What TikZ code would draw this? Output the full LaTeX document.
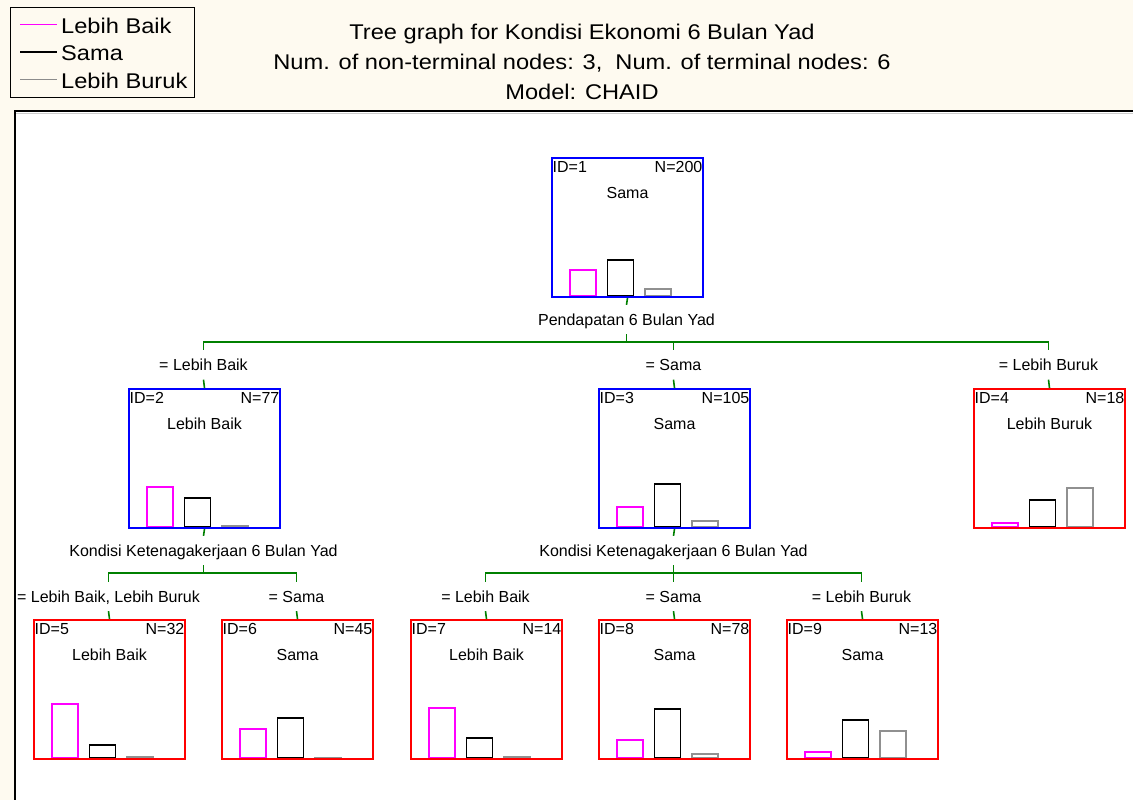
\documentclass[tikz,border=0pt]{standalone}
\usepackage{fontspec}
\setmainfont{Liberation Sans}
\newfontfamily\headfont[FakeStretch=1.11]{Liberation Sans}
\usetikzlibrary{calc}

\definecolor{cream}{RGB}{254,250,240}
\definecolor{edgegreen}{RGB}{0,128,0}
\definecolor{barpink}{RGB}{255,0,255}
\definecolor{bargray}{RGB}{144,144,144}
\definecolor{keygray}{RGB}{140,140,140}

\tikzset{
  boxbase/.style={line width=2pt, minimum width=151pt, minimum height=139pt, inner sep=0pt},
  splitbox/.style={boxbase, draw=blue},
  leafbox/.style={boxbase, draw=red},
  bar1/.style={draw=barpink, line width=1.6pt},
  bar2/.style={draw=black, line width=1.6pt},
  bar3/.style={draw=bargray, line width=1.6pt},
  edge/.style={draw=edgegreen, line width=1.6pt},
  smalltxt/.style={font=\fontsize{16}{19}\selectfont, inner sep=0pt},
  tag/.style={smalltxt, text height=11.5pt, text depth=0pt, minimum height=29pt},
  headtxt/.style={font=\headfont\fontsize{21.3}{25}\selectfont, inner sep=0pt},
  keyline/.style={line width=1.5pt},
}

% #1 name, #2 left, #3 top, #4 style, #5 id, #6 count, #7 class, #8 bar heights
\newcommand\treebox[8]{%
  \foreach \h [count=\i] in {#8} {
    \draw[bar\i] ({#2+19+(\i-1)*37.5},{#3+139}) rectangle ++(26,-\h);
  }
  \node[#4, anchor=north west] (#1) at (#2,#3) {};
  \node[smalltxt, anchor=base west] (#1-id) at ($(#1.north west)+(1.5,15.5)$) {ID=#5};
  \node[smalltxt, anchor=base east] (#1-n) at ($(#1.north east)+(-1.5,15.5)$) {N=#6};
  \node[smalltxt, anchor=base] (#1-cls) at ($(#1.north)+(0,41.5)$) {#7};
}

\begin{document}
\begin{tikzpicture}[x=1pt, y=-1pt]
  \useasboundingbox (0,0) rectangle (1133,800);
  % page and plotting panel
  \fill[cream] (0,0) rectangle (1133,800);
  \fill[white] (15,111) rectangle (1133,800);
  \draw[gray!40, line width=1pt] (16,113) -- (1133,113);
  \draw[black, line width=2pt] (15,800) -- (15,111) -- (1133,111);

  % legend
  \node[draw=black, line width=1.2pt, fill=cream, minimum width=184.5pt,
        minimum height=90pt, inner sep=0pt, anchor=north west] (legend) at (9.5,7) {};
  \node[headtxt, anchor=base west] (k1) at (61,33.5) {Lebih Baik};
  \node[headtxt, anchor=base west] (k2) at (61,61) {Sama};
  \node[headtxt, anchor=base west] (k3) at (61,88.5) {Lebih Buruk};
  \coordinate (k1a) at (20,24.5); \coordinate (k1b) at (57,24.5);
  \coordinate (k2a) at (20,52);   \coordinate (k2b) at (57,52);
  \coordinate (k3a) at (20,79.5); \coordinate (k3b) at (57,79.5);
  \draw[keyline, barpink] (k1a) -- (k1b);
  \draw[keyline, black] (k2a) -- (k2b);
  \draw[keyline, keygray] (k3a) -- (k3b);

  % heading
  \node[headtxt, anchor=base] (t1) at (582,39.5) {Tree graph for Kondisi Ekonomi 6 Bulan Yad};
  \node[headtxt, anchor=base] (t2) at (582,69.5) {Num. of non-terminal nodes: 3,\ \ Num. of terminal nodes: 6};
  \node[headtxt, anchor=base] (t3) at (582,99.5) {Model: CHAID};

  % tree nodes
  \treebox{n1}{551}{157}{splitbox}{1}{200}{Sama}{26,36,7}
  \treebox{n2}{128}{388}{splitbox}{2}{77}{Lebih Baik}{40,29,1}
  \treebox{n3}{598}{388}{splitbox}{3}{105}{Sama}{20,43,6}
  \treebox{n4}{973}{388}{leafbox}{4}{18}{Lebih Buruk}{4,27,39}
  \treebox{n5}{33}{619}{leafbox}{5}{32}{Lebih Baik}{54,13,1.5}
  \treebox{n6}{221}{619}{leafbox}{6}{45}{Sama}{29,40,0.3}
  \treebox{n7}{410}{619}{leafbox}{7}{14}{Lebih Baik}{50,20,0.8}
  \treebox{n8}{598}{619}{leafbox}{8}{78}{Sama}{18,49,4}
  \treebox{n9}{786}{619}{leafbox}{9}{13}{Sama}{6,38,27}

  % first split
  \node[tag] (s1) at (626.5,319.5) {Pendapatan 6 Bulan Yad};
  \coordinate (j1) at (626.5,342);
  \node[tag] (e2) at (203.5,365) {= Lebih Baik};
  \node[tag] (e3) at (673.5,365) {= Sama};
  \node[tag] (e4) at (1048.5,365) {= Lebih Buruk};
  \draw[edge] (n1.south) -- (s1.north);
  \draw[edge] (s1.south) -- (j1);
  \draw[edge, line cap=rect] (e2.north |- j1) -- (e4.north |- j1);
  \foreach \c/\d in {e2/n2, e3/n3, e4/n4} {
    \draw[edge] (\c.north |- j1) -- (\c.north);
    \draw[edge] (\c.south) -- (\d.north);
  }

  % second split, left branch
  \node[tag] (s2) at (203.5,550.5) {Kondisi Ketenagakerjaan 6 Bulan Yad};
  \coordinate (j2) at (203.5,573);
  \node[tag] (e5) at (108.5,596.5) {= Lebih Baik, Lebih Buruk};
  \node[tag] (e6) at (296.5,596.5) {= Sama};
  \draw[edge] (n2.south) -- (s2.north);
  \draw[edge] (s2.south) -- (j2);
  \draw[edge, line cap=rect] (e5.north |- j2) -- (e6.north |- j2);
  \foreach \c/\d in {e5/n5, e6/n6} {
    \draw[edge] (\c.north |- j2) -- (\c.north);
    \draw[edge] (\c.south) -- (\d.north);
  }

  % second split, middle branch
  \node[tag] (s3) at (673.5,550.5) {Kondisi Ketenagakerjaan 6 Bulan Yad};
  \coordinate (j3) at (673.5,573);
  \node[tag] (e7) at (485.5,596.5) {= Lebih Baik};
  \node[tag] (e8) at (673.5,596.5) {= Sama};
  \node[tag] (e9) at (861.5,596.5) {= Lebih Buruk};
  \draw[edge] (n3.south) -- (s3.north);
  \draw[edge] (s3.south) -- (j3);
  \draw[edge, line cap=rect] (e7.north |- j3) -- (e9.north |- j3);
  \foreach \c/\d in {e7/n7, e8/n8, e9/n9} {
    \draw[edge] (\c.north |- j3) -- (\c.north);
    \draw[edge] (\c.south) -- (\d.north);
  }
\end{tikzpicture}
\end{document}
